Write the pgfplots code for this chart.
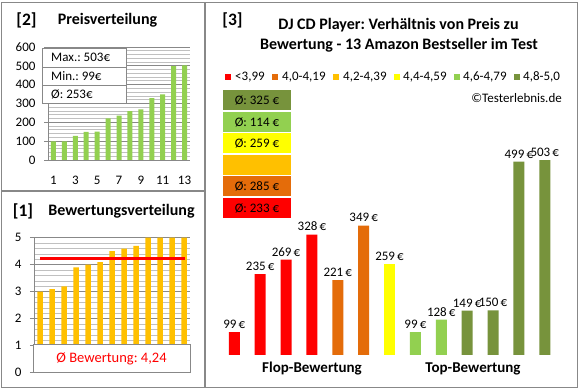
\documentclass[border=0pt]{standalone}
\usepackage{fontspec}
\setmainfont{Carlito}
\usepackage{pgfplots}
\pgfplotsset{compat=1.18}
\definecolor{frame}{HTML}{888888}
\definecolor{gridmaj}{HTML}{888888}
\definecolor{gridmin}{HTML}{C0C0C0}
\definecolor{lgreen}{HTML}{92D050}
\definecolor{olive}{HTML}{77933C}
\definecolor{orng}{HTML}{E46C0A}
\definecolor{gold}{HTML}{FFC000}
\definecolor{yel}{HTML}{FFFF00}
\newcommand{\fs}[1]{\fontsize{#1}{#1}\selectfont}
\frenchspacing
\begin{document}
\begin{tikzpicture}[x=1pt,y=1pt]
\fill[white] (0,0) rectangle (580,390);

% ---------- Panel [2] ----------
\begin{axis}[at={(48pt,230pt)}, anchor=south west, scale only axis,
  width=142pt, height=113pt,
  xmin=0.5, xmax=13.5, ymin=0, ymax=600,
  ytick={0,100,...,600}, minor y tick num=4,
  xtick={1,3,...,13},
  ymajorgrids, yminorgrids,
  major grid style={gridmaj, line width=0.8pt},
  minor grid style={gridmin, line width=0.8pt},
  axis x line*=bottom, axis y line*=left,
  axis line style={gridmaj, line width=0.8pt, -},
  x axis line style={draw=none},
  tick align=outside, major tick length=4pt,
  xtick style={draw=none}, ytick style={gridmaj, line width=0.8pt},
  minor tick length=0pt,
  tick label style={font=\fs{13}},
  /pgf/number format/assume math mode=true,
  yticklabel style={xshift=-5pt},
  xticklabel style={yshift=-9pt},
  ]
\addplot[ybar, bar width=5pt, fill=lgreen, draw=none] coordinates {
(1,99)(2,99)(3,128)(4,149)(5,150)(6,221)(7,235)(8,259)(9,269)(10,328)(11,349)(12,499)(13,503)};
\end{axis}
\draw[frame, fill=white, line width=0.8pt] (42,287) rectangle (126,342);
\draw[frame, line width=0.8pt] (42,323) -- (126,323) (42,305) -- (126,305);
\node[anchor=west, inner sep=0, font=\fs{13}] at (51,332.5) {Max.: 503€};
\node[anchor=west, inner sep=0, font=\fs{13}] at (51,314) {Min.: 99€};
\node[anchor=west, inner sep=0, font=\fs{13}] at (51,296) {Ø: 253€};
\node[font=\bfseries\fs{17.5}] at (26.5,370) {[2]};
\node[font=\bfseries\fs{16}] at (107.5,370) {Preisverteilung};

% ---------- Panel [1] ----------
\begin{axis}[at={(34pt,17.3pt)}, anchor=south west, scale only axis,
  width=156pt, height=135pt,
  xmin=0.5, xmax=13.5, ymin=0, ymax=5,
  ytick={0,1,...,5}, minor y tick num=4,
  xtick=\empty,
  ymajorgrids, yminorgrids,
  major grid style={gridmaj, line width=0.8pt},
  minor grid style={gridmin, line width=0.8pt},
  axis x line*=bottom, axis y line*=left,
  axis line style={gridmaj, line width=0.8pt, -},
  x axis line style={draw=none},
  tick align=outside, major tick length=4pt,
  ytick style={gridmaj, line width=0.8pt},
  minor tick length=0pt,
  tick label style={font=\fs{13}},
  /pgf/number format/assume math mode=true,
  yticklabel style={xshift=-5pt},
  ]
\addplot[ybar, bar width=5.5pt, fill=gold, draw=none] coordinates {
(1,3.0)(2,3.1)(3,3.2)(4,3.9)(5,4.0)(6,4.1)(7,4.5)(8,4.6)(9,4.7)(10,5.0)(11,5.0)(12,5.0)(13,5.0)};
\addplot[red, line width=3pt] coordinates {(1,4.24)(13.1,4.24)};
\end{axis}
\draw[frame, fill=white, line width=0.8pt] (33,17.5) rectangle (190,46);
\node[red, font=\fs{14.5}] at (111.5,31.5) {Ø Bewertung: 4,24};
\node[font=\bfseries\fs{17.5}] at (23,178.3) {[1]};
\node[font=\bfseries\fs{16}] at (121.5,178.3) {Bewertungsverteilung};

% ---------- Panel [3] ----------
\begin{axis}[at={(221.4pt,35pt)}, anchor=south west, scale only axis,
  width=336.3pt, height=202.2pt,
  xmin=0.5, xmax=13.5, ymin=45, ymax=520,
  hide axis, clip=false,
  /pgf/number format/assume math mode=true,
  nodes near coords={\pgfmathprintnumber{\pgfplotspointmeta}\,€},
  every node near coord/.append style={font=\fs{13}, yshift=0pt},
  ]
\addplot[ybar, bar width=11pt, bar shift=0pt, fill=red, draw=none] coordinates {(1,99)(2,235)(3,269)(4,328)};
\addplot[ybar, bar width=11pt, bar shift=0pt, fill=orng, draw=none] coordinates {(5,221)(6,349)};
\addplot[ybar, bar width=11pt, bar shift=0pt, fill=yel, draw=none] coordinates {(7,259)};
\addplot[ybar, bar width=11pt, bar shift=0pt, fill=lgreen, draw=none] coordinates {(8,99)(9,128)};
\addplot[ybar, bar width=11pt, bar shift=0pt, fill=olive, draw=none] coordinates {(10,149)(11,150)(12,499)(13,503)};
\end{axis}
\node[font=\bfseries\fs{15}] at (312,21) {Flop-Bewertung};
\node[font=\bfseries\fs{15}] at (473,21) {Top-Bewertung};

\node[font=\bfseries\fs{17.5}] at (232.5,370) {[3]};
\node[font=\bfseries\fs{16}] at (398.5,365) {DJ CD Player: Verhältnis von Preis zu};
\node[font=\bfseries\fs{16}] at (399,345) {Bewertung - 13 Amazon Bestseller im Test};

% legend
\foreach \c/\xs/\xt/\t in {red/228.3/235/{<3,99}, orng/274.7/282/{4,0-4,19}, gold/336/343/{4,2-4,39}, yel/396.5/403/{4,4-4,59}, lgreen/456.5/463/{4,6-4,79}, olive/517/523/{4,8-5,0}}{
  \fill[\c] (\xs-3,310) rectangle (\xs+3,316);
  \node[anchor=west, inner sep=0, font=\fs{13}] at (\xt,313) {\t};
}
\node[anchor=east, inner sep=0, font=\fs{13}] at (562,292) {©Testerlebnis.de};

% average boxes
\fill[olive] (223,280) rectangle (291,300);
\node[font=\fs{13}] at (257,290) {Ø: 325 €};
\fill[lgreen] (223,258) rectangle (291,278);
\node[font=\fs{13}] at (257,268) {Ø: 114 €};
\fill[yel] (223,237) rectangle (291,257);
\node[font=\fs{13}] at (257,247) {Ø: 259 €};
\fill[gold] (223,215) rectangle (291,235);
\fill[orng] (223,194) rectangle (291,214);
\node[font=\fs{13}] at (257,204) {Ø: 285 €};
\fill[red] (223,172) rectangle (291,192);
\node[font=\fs{13}] at (257,182) {Ø: 233 €};

% frames
\draw[frame, line width=1.5pt] (1.7,2.3) rectangle (577.7,387.7);
\draw[frame, line width=1.5pt] (205,2.3) -- (205,387.7);
\draw[frame, line width=1.5pt] (1.7,199) -- (205,199);
\end{tikzpicture}
\end{document}
